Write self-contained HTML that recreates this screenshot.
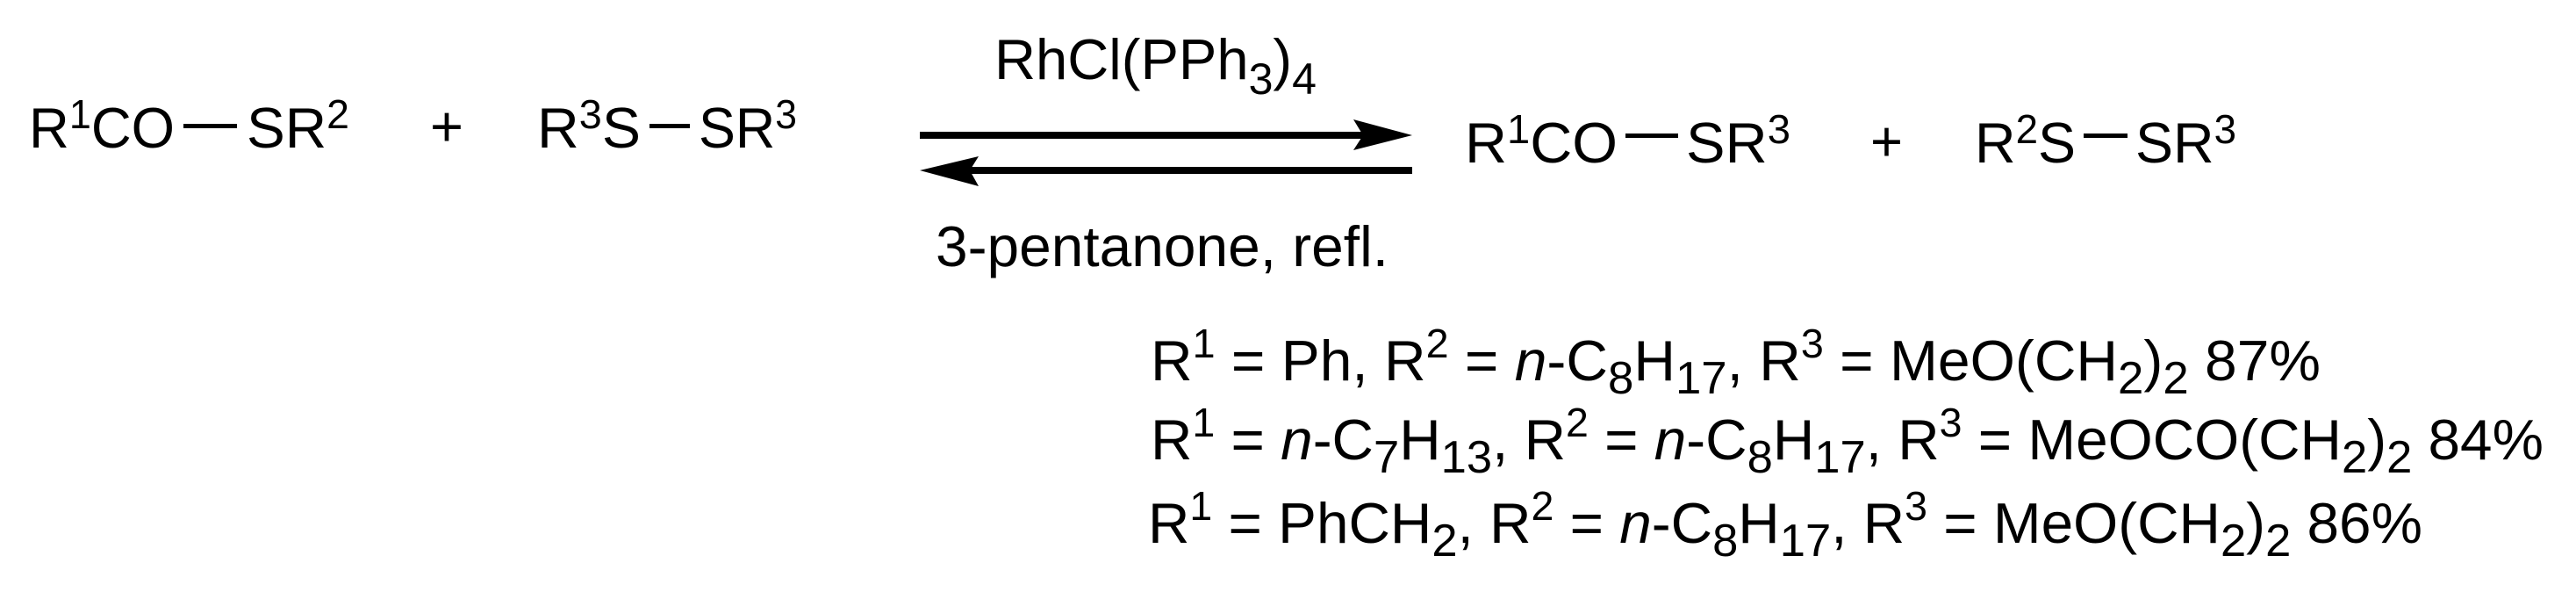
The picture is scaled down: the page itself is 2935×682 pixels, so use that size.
<!DOCTYPE html>
<html><head><meta charset="utf-8"><style>
html,body{margin:0;padding:0;background:#fff;}
svg{display:block;}
text{font-family:"Liberation Sans",sans-serif;font-size:65px;fill:#000;}
</style></head><body>
<svg width="2935" height="682" viewBox="0 0 2935 682" xmlns="http://www.w3.org/2000/svg">
<rect width="2935" height="682" fill="#fff"/>
<!-- reactants -->
<text x="33" y="168" textLength="166" lengthAdjust="spacingAndGlyphs">R<tspan font-size="46" dy="-22">1</tspan><tspan dy="22">CO</tspan></text>
<rect x="209" y="141" width="61" height="5"/>
<text x="281" y="168" textLength="117" lengthAdjust="spacingAndGlyphs">SR<tspan font-size="46" dy="-22">2</tspan></text>
<text x="490" y="166" textLength="38" lengthAdjust="spacingAndGlyphs">+</text>
<text x="612" y="168" textLength="118" lengthAdjust="spacingAndGlyphs">R<tspan font-size="46" dy="-22">3</tspan><tspan dy="22">S</tspan></text>
<rect x="740" y="141" width="46" height="5"/>
<text x="796" y="168" textLength="112" lengthAdjust="spacingAndGlyphs">SR<tspan font-size="46" dy="-22">3</tspan></text>
<!-- arrows -->
<text x="1133" y="90" textLength="367" lengthAdjust="spacingAndGlyphs">RhCl(PPh<tspan font-size="50" dy="17">3</tspan><tspan dy="-17">)</tspan><tspan font-size="50" dy="17">4</tspan></text>
<rect x="1048" y="150" width="510" height="8"/>
<polygon points="1609,154 1542,136 1553,154 1542,171"/>
<rect x="1100" y="190" width="509" height="8"/>
<polygon points="1048,194 1115,178 1105,194 1115,212"/>
<text x="1066" y="303" textLength="516" lengthAdjust="spacingAndGlyphs">3-pentanone, refl.</text>
<!-- products -->
<text x="1669" y="185" textLength="174" lengthAdjust="spacingAndGlyphs">R<tspan font-size="46" dy="-22">1</tspan><tspan dy="22">CO</tspan></text>
<rect x="1852" y="152" width="60" height="5"/>
<text x="1921" y="185" textLength="119" lengthAdjust="spacingAndGlyphs">SR<tspan font-size="46" dy="-22">3</tspan></text>
<text x="2131" y="183" textLength="37" lengthAdjust="spacingAndGlyphs">+</text>
<text x="2250" y="185" textLength="115" lengthAdjust="spacingAndGlyphs">R<tspan font-size="46" dy="-22">2</tspan><tspan dy="22">S</tspan></text>
<rect x="2374" y="152" width="50" height="5"/>
<text x="2433" y="185" textLength="115" lengthAdjust="spacingAndGlyphs">SR<tspan font-size="46" dy="-22">3</tspan></text>
<!-- conditions -->
<text x="1311" y="433" textLength="1333" lengthAdjust="spacingAndGlyphs">R<tspan font-size="46" dy="-26">1</tspan><tspan dy="26"> = Ph, R</tspan><tspan font-size="46" dy="-26">2</tspan><tspan dy="26"> = </tspan><tspan font-style="italic">n</tspan>-C<tspan font-size="52" dy="15">8</tspan><tspan dy="-15">H</tspan><tspan font-size="52" dy="15">17</tspan><tspan dy="-15">, R</tspan><tspan font-size="46" dy="-26">3</tspan><tspan dy="26"> = MeO(CH</tspan><tspan font-size="52" dy="15">2</tspan><tspan dy="-15">)</tspan><tspan font-size="52" dy="15">2</tspan><tspan dy="-15"> 87%</tspan></text>
<text x="1311" y="523" textLength="1587" lengthAdjust="spacingAndGlyphs">R<tspan font-size="46" dy="-26">1</tspan><tspan dy="26"> = </tspan><tspan font-style="italic">n</tspan>-C<tspan font-size="52" dy="15">7</tspan><tspan dy="-15">H</tspan><tspan font-size="52" dy="15">13</tspan><tspan dy="-15">, R</tspan><tspan font-size="46" dy="-26">2</tspan><tspan dy="26"> = </tspan><tspan font-style="italic">n</tspan>-C<tspan font-size="52" dy="15">8</tspan><tspan dy="-15">H</tspan><tspan font-size="52" dy="15">17</tspan><tspan dy="-15">, R</tspan><tspan font-size="46" dy="-26">3</tspan><tspan dy="26"> = MeOCO(CH</tspan><tspan font-size="52" dy="15">2</tspan><tspan dy="-15">)</tspan><tspan font-size="52" dy="15">2</tspan><tspan dy="-15"> 84%</tspan></text>
<text x="1308" y="618" textLength="1452" lengthAdjust="spacingAndGlyphs">R<tspan font-size="46" dy="-26">1</tspan><tspan dy="26"> = PhCH</tspan><tspan font-size="52" dy="15">2</tspan><tspan dy="-15">, R</tspan><tspan font-size="46" dy="-26">2</tspan><tspan dy="26"> = </tspan><tspan font-style="italic">n</tspan>-C<tspan font-size="52" dy="15">8</tspan><tspan dy="-15">H</tspan><tspan font-size="52" dy="15">17</tspan><tspan dy="-15">, R</tspan><tspan font-size="46" dy="-26">3</tspan><tspan dy="26"> = MeO(CH</tspan><tspan font-size="52" dy="15">2</tspan><tspan dy="-15">)</tspan><tspan font-size="52" dy="15">2</tspan><tspan dy="-15"> 86%</tspan></text>
</svg>
</body></html>
